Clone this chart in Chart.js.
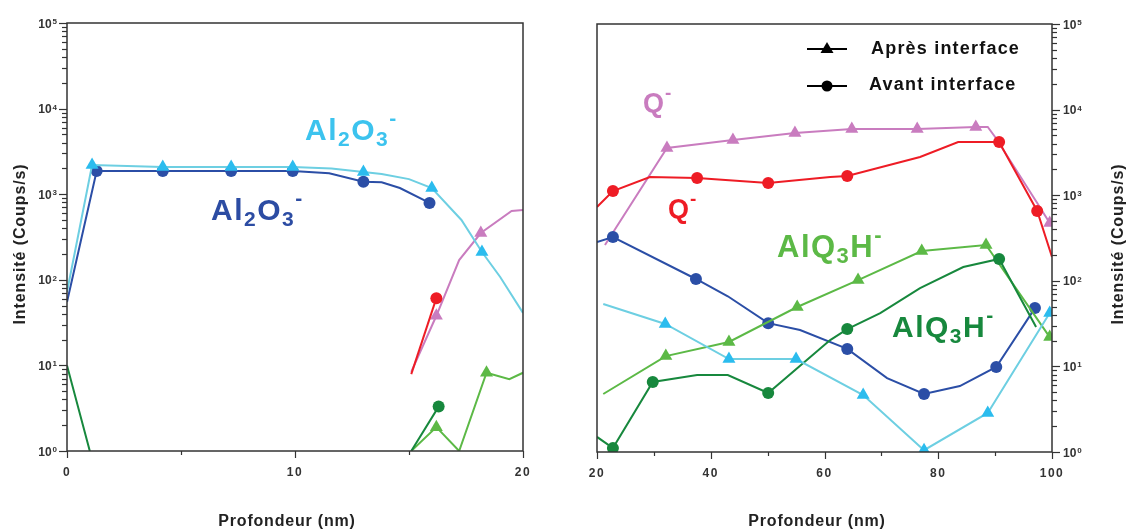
<!DOCTYPE html>
<html><head><meta charset="utf-8">
<script src="https://cdn.jsdelivr.net/npm/chart.js@4.4.1/dist/chart.umd.min.js"></script>
<style>
html,body{margin:0;padding:0;background:#fff;width:1128px;height:531px;overflow:hidden}
#c1{position:absolute;left:0;top:0}
#c2{position:absolute;left:560px;top:0}
</style></head><body>
<canvas id="c1" width="560" height="531"></canvas>
<canvas id="c2" width="568" height="531"></canvas>
<script>
// ---------- Left panel (0–20 nm) ----------
const L_al2o3Apres_x = [0, 1.1, 4.2, 7.2, 9.9, 11.6, 13.0, 13.8, 15.0, 16.0, 17.3, 18.2, 19.0, 20];
const L_al2o3Apres_y = [72, 2190, 2080, 2080, 2080, 2000, 1820, 1720, 1500, 1180, 500, 211, 108, 41];
const L_al2o3Apres_marks = [1, 2, 3, 4, 6, 9, 11];

const L_al2o3Avant_x = [0, 1.3, 4.2, 7.2, 9.9, 11.5, 13.0, 13.8, 14.6, 15.9];
const L_al2o3Avant_y = [55, 1870, 1870, 1870, 1870, 1760, 1400, 1380, 1180, 790];
const L_al2o3Avant_marks = [1, 2, 3, 4, 6, 9];

const L_qApres_x = [15.1, 16.2, 17.2, 18.15, 19.5, 20];
const L_qApres_y = [8.4, 38, 170, 352, 637, 654];
const L_qApres_marks = [1, 3];

const L_qAvant_x = [15.1, 16.2];
const L_qAvant_y = [7.9, 61];
const L_qAvant_marks = [1];

const L_alq3hApres_x = [15.1, 16.2, 17.2, 18.4, 19.4, 20];
const L_alq3hApres_y = [1, 1.9, 1, 8.2, 6.9, 8.2];
const L_alq3hApres_marks = [1, 3];

const L_alq3hAvant_x = [0, 1.0, 8, 15.1, 16.3];
const L_alq3hAvant_y = [10, 1, null, 1, 3.3];
const L_alq3hAvant_marks = [4];

// ---------- Right panel (20–100 nm) ----------
const R_qApres_x = [21.4, 32.3, 43.9, 54.8, 64.8, 76.3, 86.6, 88.7, 90.0, 97.4, 99.6];
const R_qApres_y = [262, 3560, 4415, 5330, 5935, 5935, 6270, 6270, 4790, 811, 473];
const R_qApres_marks = [1, 2, 3, 4, 5, 6, 10];

const R_qAvant_x = [20, 22.8, 29.3, 37.6, 50.1, 61, 64, 76.8, 83.5, 90.7, 97.4, 100];
const R_qAvant_y = [728, 1120, 1632, 1588, 1390, 1632, 1676, 2794, 4180, 4180, 654, 190];
const R_qAvant_marks = [1, 3, 4, 6, 9, 10];

const R_al2o3Avant_x = [20, 22.8, 37.4, 43.0, 50.1, 55.7, 64, 71, 77.5, 83.8, 90.2, 97];
const R_al2o3Avant_y = [284, 325, 105, 66, 32, 26.6, 16, 7.3, 4.76, 5.9, 9.84, 48];
const R_al2o3Avant_marks = [1, 2, 4, 6, 8, 10, 11];

const R_al2o3Apres_x = [21.1, 32.0, 43.2, 55.0, 66.8, 77.5, 88.7, 99.6];
const R_al2o3Apres_y = [53.6, 31.3, 12.2, 12.2, 4.63, 1.05, 2.86, 42];
const R_al2o3Apres_marks = [1, 2, 3, 4, 5, 6, 7];

const R_alq3hApres_x = [21.1, 32.1, 43.2, 55.2, 65.9, 77.1, 88.4, 99.6];
const R_alq3hApres_y = [4.76, 13.2, 19.3, 49.4, 102, 223, 262, 22];
const R_alq3hApres_marks = [1, 2, 3, 4, 5, 6, 7];

const R_alq3hAvant_x = [20, 22.8, 29.8, 37.6, 43.0, 50.1, 61, 64, 69.8, 76.8, 84.4, 90.7, 97.2];
const R_alq3hAvant_y = [1.5, 1.11, 6.57, 7.94, 7.94, 4.89, 20.3, 27.3, 42, 82, 145, 180, 28.8];
const R_alq3hAvant_marks = [1, 2, 5, 7, 11];

// axis ticks
const L_xTicks = [0, 5, 10, 15, 20];
const L_xLabels = [0, 10, 20];
const R_xTicks = [20, 30, 40, 50, 60, 70, 80, 90, 100];
const R_xLabels = [20, 40, 60, 80, 100];
const yDecades = [0, 1, 2, 3, 4, 5];

const C = {
  ltBlue: '#6dcfe2', ltBlueMk: '#2bbcee',
  dkBlue: '#2b4ea6',
  pink: '#c97cbf',
  red: '#ee1c25',
  ltGreen: '#5cb946',
  dkGreen: '#17883d'
};
const FONT = '"Liberation Sans", Arial, sans-serif';

function pts(xs, ys) { return xs.map((x, i) => ({x: x, y: ys[i]})); }
function ds(xs, ys, marks, color, mkColor, style) {
  const r = style === 'triangle' ? 7.5 : 6;
  return {
    data: pts(xs, ys), borderColor: color, borderWidth: 2,
    backgroundColor: mkColor, pointBackgroundColor: mkColor, pointBorderWidth: 0,
    pointStyle: style, tension: 0, spanGaps: false,
    pointRadius: ctx => marks.includes(ctx.dataIndex) ? r : 0,
    pointHoverRadius: ctx => marks.includes(ctx.dataIndex) ? r : 0
  };
}

function yTickList() {
  const out = [];
  for (const k of yDecades) {
    if (k === 5) { out.push([1e5, true]); break; }
    for (let m = 1; m <= 9; m++) out.push([m * Math.pow(10, k), m === 1]);
  }
  return out;
}

function drawChem(ctx, parts, x, base, F, color, spacing) {
  ctx.save();
  ctx.fillStyle = color; ctx.textAlign = 'left'; ctx.textBaseline = 'alphabetic';
  ctx.letterSpacing = spacing + 'px';
  let cx = x;
  for (const [t, k] of parts) {
    let size = F, dy = 0;
    if (k === 'sub') { size = Math.round(F * 0.7); dy = F * 0.2; }
    if (k === 'sup') { size = Math.round(F * 0.7); dy = -F * 0.5; }
    ctx.font = 'bold ' + size + 'px ' + FONT;
    ctx.fillText(t, cx, base + dy);
    cx += ctx.measureText(t).width;
  }
  ctx.restore();
}

function spacedText(ctx, txt, x, y, font, color, spacing, align) {
  ctx.save();
  ctx.font = font; ctx.fillStyle = color; ctx.letterSpacing = spacing + 'px';
  ctx.textAlign = align || 'center'; ctx.textBaseline = 'middle';
  ctx.fillText(txt, x, y);
  ctx.restore();
}

function panelPlugin(side, xTicks, xLabels, offX, extra) {
  return {
    id: 'panel' + side,
    afterDatasetsDraw(chart) {
      const {ctx, chartArea: a, scales} = chart;
      const xs = scales.x, ys = scales.y;
      ctx.save();
      ctx.strokeStyle = '#333'; ctx.lineWidth = 1.5;
      ctx.strokeRect(a.left, a.top, a.right - a.left, a.bottom - a.top);
      // y ticks
      const ax = side === 'L' ? a.left : a.right;
      const dir = side === 'L' ? -1 : 1;
      ctx.lineWidth = 1.2;
      for (const [v, major] of yTickList()) {
        const y = Math.round(ys.getPixelForValue(v)) + 0.5;
        ctx.beginPath(); ctx.moveTo(ax, y); ctx.lineTo(ax + dir * (major ? 8 : 5), y); ctx.stroke();
      }
      // y labels
      ctx.fillStyle = '#333'; ctx.textBaseline = 'alphabetic';
      for (const k of yDecades) {
        const y = ys.getPixelForValue(Math.pow(10, k));
        ctx.font = 'bold 12px ' + FONT;
        const w10 = ctx.measureText('10').width;
        ctx.font = 'bold 8px ' + FONT;
        const we = ctx.measureText(String(k)).width;
        let x0;
        if (side === 'L') x0 = ax - 10 - we - 1 - w10; else x0 = ax + 11;
        ctx.font = 'bold 12px ' + FONT; ctx.textAlign = 'left';
        ctx.fillText('10', x0, y + 4.5);
        ctx.font = 'bold 8px ' + FONT;
        ctx.fillText(String(k), x0 + w10 + 1, y + 1);
      }
      // x ticks
      for (const v of xTicks) {
        const x = Math.round(xs.getPixelForValue(v)) + 0.5;
        const major = xLabels.includes(v);
        ctx.beginPath(); ctx.moveTo(x, a.bottom); ctx.lineTo(x, a.bottom + (major ? 7 : 4)); ctx.stroke();
      }
      ctx.restore();
      for (const v of xLabels) {
        spacedText(ctx, String(v), xs.getPixelForValue(v), a.bottom + 22, 'bold 12px ' + FONT, '#333', 1.5);
      }
      // titles
      spacedText(ctx, 'Profondeur (nm)', (side === 'L' ? 287 : 817) - offX, 522, 'bold 16px ' + FONT, '#222', 0.8);
      ctx.save();
      const tx = (side === 'L' ? 21 : 1119) - offX;
      ctx.translate(tx, 244); ctx.rotate(-Math.PI / 2);
      spacedText(ctx, 'Intensité (Coups/s)', 0, 0, 'bold 16px ' + FONT, '#222', 0.9);
      ctx.restore();
      extra(ctx, offX);
    }
  };
}

function baseOptions(xmin, xmax, yPos, yWidth, xHeight, padding) {
  return {
    responsive: false, animation: false, devicePixelRatio: 1,
    layout: {padding: padding},
    plugins: {legend: {display: false}, tooltip: {enabled: false}},
    scales: {
      x: {type: 'linear', min: xmin, max: xmax, grid: {display: false}, border: {display: false},
          ticks: {display: false}, afterFit: s => { s.height = xHeight; }},
      y: {type: 'logarithmic', min: 1, max: 1e5, position: yPos, grid: {display: false}, border: {display: false},
          ticks: {display: false}, afterFit: s => { s.width = yWidth; }}
    }
  };
}

// Left chart
new Chart(document.getElementById('c1'), {
  type: 'line',
  data: {datasets: [
    ds(L_al2o3Apres_x, L_al2o3Apres_y, L_al2o3Apres_marks, C.ltBlue, C.ltBlueMk, 'triangle'),
    ds(L_al2o3Avant_x, L_al2o3Avant_y, L_al2o3Avant_marks, C.dkBlue, C.dkBlue, 'circle'),
    ds(L_qAvant_x, L_qAvant_y, L_qAvant_marks, C.red, C.red, 'circle'),
    ds(L_qApres_x, L_qApres_y, L_qApres_marks, C.pink, C.pink, 'triangle'),
    ds(L_alq3hAvant_x, L_alq3hAvant_y, L_alq3hAvant_marks, C.dkGreen, C.dkGreen, 'circle'),
    ds(L_alq3hApres_x, L_alq3hApres_y, L_alq3hApres_marks, C.ltGreen, C.ltGreen, 'triangle')
  ]},
  options: baseOptions(0, 20, 'left', 67, 80, {left: 0, top: 23, right: 37, bottom: 0}),
  plugins: [panelPlugin('L', L_xTicks, L_xLabels, 0, (ctx, o) => {
    const al = [['Al', 'n'], ['2', 'sub'], ['O', 'n'], ['3', 'sub'], ['-', 'sup']];
    drawChem(ctx, al, 305 - o, 140, 30, '#3cc3ee', 1.5);
    drawChem(ctx, al, 211 - o, 220, 30, '#2c4ca3', 1.5);
  })]
});

// Right chart
new Chart(document.getElementById('c2'), {
  type: 'line',
  data: {datasets: [
    ds(R_al2o3Apres_x, R_al2o3Apres_y, R_al2o3Apres_marks, C.ltBlue, C.ltBlueMk, 'triangle'),
    ds(R_alq3hAvant_x, R_alq3hAvant_y, R_alq3hAvant_marks, C.dkGreen, C.dkGreen, 'circle'),
    ds(R_alq3hApres_x, R_alq3hApres_y, R_alq3hApres_marks, C.ltGreen, C.ltGreen, 'triangle'),
    ds(R_al2o3Avant_x, R_al2o3Avant_y, R_al2o3Avant_marks, C.dkBlue, C.dkBlue, 'circle'),
    ds(R_qAvant_x, R_qAvant_y, R_qAvant_marks, C.red, C.red, 'circle'),
    ds(R_qApres_x, R_qApres_y, R_qApres_marks, C.pink, C.pink, 'triangle')
  ]},
  options: baseOptions(20, 100, 'right', 76, 79, {left: 37, top: 24, right: 0, bottom: 0}),
  plugins: [panelPlugin('R', R_xTicks, R_xLabels, 560, (ctx, o) => {
    drawChem(ctx, [['Q', 'n'], ['-', 'sup']], 643 - o, 112, 27, C.pink, 1);
    drawChem(ctx, [['Q', 'n'], ['-', 'sup']], 668 - o, 218, 27, C.red, 1);
    const alq = [['Al', 'n'], ['Q', 'n'], ['3', 'sub'], ['H', 'n'], ['-', 'sup']];
    drawChem(ctx, alq, 777 - o, 257, 31, C.ltGreen, 1.5);
    drawChem(ctx, alq, 892 - o, 337, 30, C.dkGreen, 1.5);
    // legend
    ctx.save();
    ctx.strokeStyle = '#000'; ctx.fillStyle = '#000'; ctx.lineWidth = 2;
    const lx0 = 807 - o, lx1 = 847 - o, mx = 827 - o;
    ctx.beginPath(); ctx.moveTo(lx0, 49); ctx.lineTo(lx1, 49); ctx.stroke();
    ctx.beginPath(); ctx.moveTo(mx, 42); ctx.lineTo(mx + 6.5, 53); ctx.lineTo(mx - 6.5, 53); ctx.closePath(); ctx.fill();
    ctx.beginPath(); ctx.moveTo(lx0, 86); ctx.lineTo(lx1, 86); ctx.stroke();
    ctx.beginPath(); ctx.arc(mx, 86, 5.5, 0, Math.PI * 2); ctx.fill();
    ctx.restore();
    spacedText(ctx, 'Après interface', 871 - o, 49, 'bold 18px ' + FONT, '#111', 1.2, 'left');
    spacedText(ctx, 'Avant interface', 869 - o, 85, 'bold 18px ' + FONT, '#111', 1.2, 'left');
  })]
});
</script>
</body></html>
